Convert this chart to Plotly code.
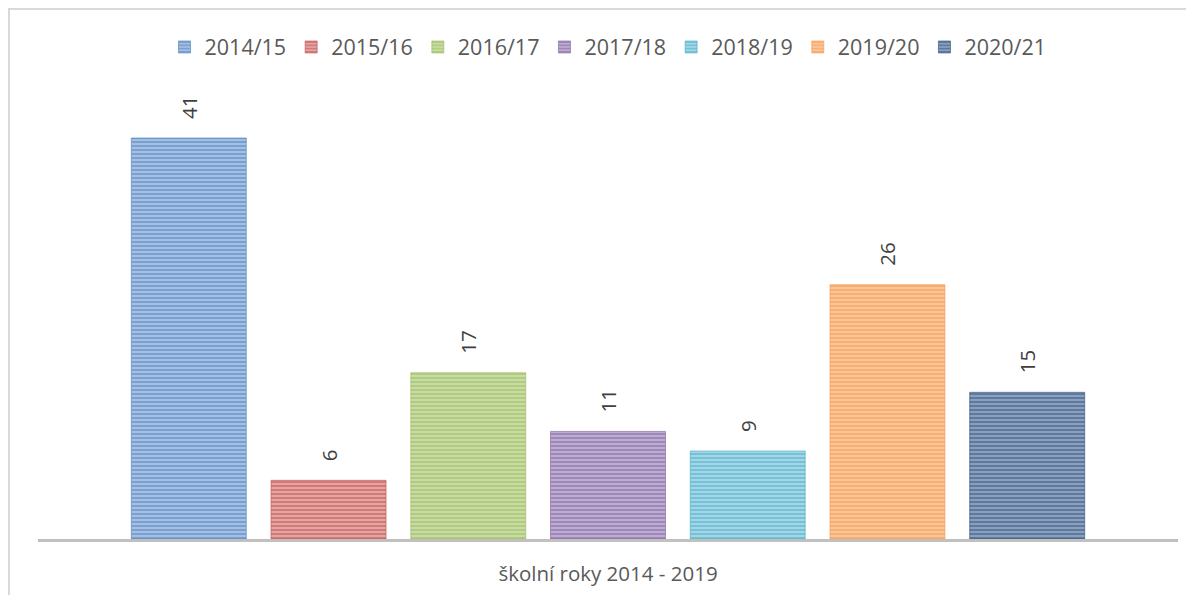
import plotly.graph_objects as go

category = ["školní roky 2014 - 2019"]
series_names = ["2014/15", "2015/16", "2016/17", "2017/18", "2018/19", "2019/20", "2020/21"]
values = [41, 6, 17, 11, 9, 26, 15]
colors = ["#4a7ebb", "#be4b48", "#98b954", "#7d60a0", "#46aac5", "#f79646", "#2c4d75"]
light = ["#a9c2e4", "#e6a9a7", "#cadcab", "#bfb0d3", "#a6d8e6", "#fbc79e", "#8ea4c2"]

OFF = 8  # browser body margin
W, H = 1194 - OFF, 595 - OFF
L, R, T, B = 38 - OFF, 1178 - OFF, 100 - OFF, 539 - OFF
pw, ph = R - L, B - T
ymax = ph / 9.78

fig = go.Figure()
for name, v, c, lc in zip(series_names, values, colors, light):
    fig.add_trace(go.Bar(
        name=name, x=category, y=[v],
        marker=dict(color=lc, line=dict(color=c, width=0.6),
                    pattern=dict(shape="-", fgcolor=c, bgcolor=lc, size=4, solidity=0.55)),
        text=[v], texttemplate="\u00a0\u00a0\u00a0%{y}", textposition="outside", textangle=-90,
        textfont=dict(color="#404040", size=20.5, family="Open Sans"),
        cliponaxis=False,
    ))

def px_x(p):
    return (p - OFF - L) / pw

def px_y(p):
    return (B - (p - OFF)) / ph

fig.update_layout(
    width=W, height=H,
    margin=dict(l=L, r=W - R, t=T, b=H - B, autoexpand=False),
    paper_bgcolor="white", plot_bgcolor="white",
    barmode="group", bargap=0.142, bargroupgap=0.177,
    font=dict(family="Open Sans", color="#595959", size=20),
    showlegend=True,
    legend=dict(orientation="h", x=0.5, xanchor="center", y=px_y(47), yanchor="middle",
                font=dict(size=21.5, color="#595959"), itemwidth=30, traceorder="normal"),
    xaxis=dict(showline=True, linecolor="#c0c0c0", linewidth=3, showgrid=False,
               ticks="", ticklabelstandoff=14, automargin=False,
               tickfont=dict(size=20.5, color="#595959"), fixedrange=True),
    yaxis=dict(range=[0, ymax], visible=False, showgrid=False, zeroline=False, automargin=False),
    shapes=[dict(type="rect", xref="paper", yref="paper",
                 x0=px_x(9), x1=px_x(1200), y0=px_y(9), y1=px_y(605),
                 line=dict(color="#d9d9d9", width=2), fillcolor="rgba(0,0,0,0)", layer="below")],
)

fig.write_html("out.html")
